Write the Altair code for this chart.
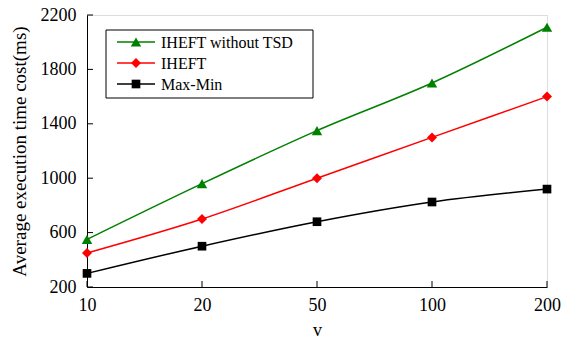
import altair as alt
import pandas as pd

v_labels = ["10", "20", "50", "100", "200"]
series_names = ["IHEFT without TSD", "IHEFT", "Max-Min"]
iheft_wo_tsd = [550, 960, 1350, 1700, 2110]
iheft = [450, 700, 1000, 1300, 1600]
max_min = [300, 500, 680, 825, 920]
y_ticks = [200, 600, 1000, 1400, 1800, 2200]

colors = ["#008000", "#ff0000", "#000000"]
shapes = ["triangle-up", "diamond", "square"]
sizes = [110, 100, 75]

rows = []
for name, vals in zip(series_names, [iheft_wo_tsd, iheft, max_min]):
    for v, y in zip(v_labels, vals):
        rows.append({"v": v, "cost": y, "series": name})
df = pd.DataFrame(rows)

FONT = "Liberation Serif"
W, H = 460, 272

xs = alt.X("v:N", sort=v_labels, scale=alt.Scale(type="point", padding=0, domain=v_labels),
           axis=alt.Axis(title="v", labelAngle=0, ticks=False, labelPadding=9, titlePadding=7,
                         domainColor="black", labelFont=FONT, titleFont=FONT,
                         labelFontSize=18, titleFontSize=18, titleFontWeight="normal",
                         labelColor="black", titleColor="black"))
ys = alt.Y("cost:Q", scale=alt.Scale(domain=[200, 2200], nice=False),
           axis=alt.Axis(title="Average execution time cost(ms)", values=y_ticks, format="d",
                         ticks=False, labelPadding=11, titlePadding=11, grid=False,
                         domainColor="black", labelFont=FONT, titleFont=FONT,
                         labelFontSize=18, titleFontSize=19, titleFontWeight="normal",
                         labelColor="black", titleColor="black"))

layers = []
for name, c, s, sz in zip(series_names, colors, shapes, sizes):
    sub = df[df.series == name]
    base = alt.Chart(sub)
    layers.append(base.mark_line(color=c, strokeWidth=1.5, interpolate="monotone").encode(x=xs, y=ys))
    layers.append(base.mark_point(color=c, fill=c, filled=True, shape=s, size=sz, opacity=1).encode(x=xs, y=ys))

# inward ticks
ytick_df = pd.DataFrame({"cost": y_ticks})
layers.append(alt.Chart(ytick_df).mark_rule(color="black", strokeWidth=1).encode(
    y=alt.Y("cost:Q"), x=alt.value(0), x2=alt.value(6)))
xtick_df = pd.DataFrame({"v": v_labels})
layers.append(alt.Chart(xtick_df).mark_rule(color="black", strokeWidth=1).encode(
    x=alt.X("v:N", sort=v_labels), y=alt.value(H), y2=alt.value(H - 6)))

# legend
leg_df = pd.DataFrame({"a": [0]})
layers.append(alt.Chart(leg_df).mark_rect(fill="white", stroke="black", strokeWidth=1).encode(
    x=alt.value(19), x2=alt.value(226), y=alt.value(15), y2=alt.value(83)))
row_y = [27, 48, 69]
for name, c, s, sz, yy in zip(series_names, colors, shapes, sizes, row_y):
    layers.append(alt.Chart(leg_df).mark_rule(color=c, strokeWidth=1.5).encode(
        x=alt.value(30), x2=alt.value(68), y=alt.value(yy)))
    layers.append(alt.Chart(leg_df).mark_point(color=c, fill=c, filled=True, shape=s, size=sz, opacity=1).encode(
        x=alt.value(49), y=alt.value(yy)))
    layers.append(alt.Chart(leg_df).mark_text(text=name, align="left", baseline="middle", font=FONT,
                                              fontSize=16, color="black").encode(
        x=alt.value(74), y=alt.value(yy + 1)))

chart = alt.layer(*layers).properties(
    width=W, height=H,
    autosize=alt.AutoSizeParams(type="none"),
    padding={"left": 87, "top": 15, "right": 16, "bottom": 51},
).configure_view(stroke="#c0c0c0", strokeWidth=1).configure(background="white")

chart.save("out.html", embed_options={"renderer": "svg", "actions": False})
